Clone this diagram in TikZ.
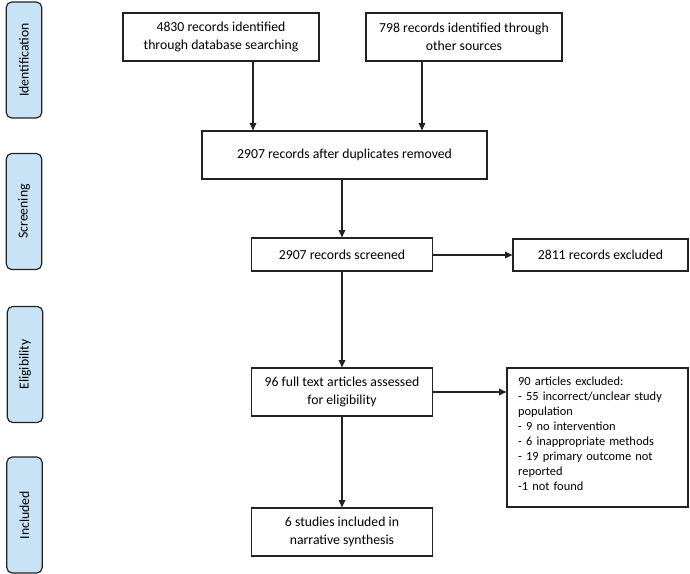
\documentclass[tikz,border=0pt]{standalone}
\usepackage{fontspec}
\setmainfont{Carlito}
\usepackage{xcolor}
\usepackage{tikz}
\usetikzlibrary{positioning}
\usetikzlibrary{arrows.meta}
\definecolor{phasefill}{HTML}{C8E3F6}
\definecolor{inkgray}{HTML}{222222}

\begin{document}
\begin{tikzpicture}
  [
    x=0.75pt, y=-0.75pt,
    box/.style={draw=inkgray, line width=0.9pt, align=center, inner sep=2pt,
      text=black, font=\fontsize{10.3}{13.5}\selectfont},
    phase/.style={draw=inkgray, line width=0.9pt, fill=phasefill,
      rounded corners=4pt, rotate=90, minimum width=87pt,
      minimum height=26.5pt, inner sep=0pt,
      text=black, font=\fontsize{10.3}{13.5}\selectfont},
    ar/.style={draw=inkgray, line width=0.9pt,
      -{Triangle[length=5.5pt,width=5pt]}}
  ]
  \useasboundingbox (0,0) rectangle (690,574);

  % phase labels
  \node  (ident) at (24,60)    [phase] {Identification};
  \node  (scrn)  at (24,211.5) [phase] {Screening};
  \node  (elig)  at (25,364.5) [phase] {Eligibility};
  \node  (inclp) at (24.5,515) [phase] {Included};

  % flow boxes
  \node (dbase)   at (221,37)    [box, minimum width=147pt, minimum height=36pt]
        {4830 records identified\\through database searching};
  \node (other)   at (464,37)    [box, minimum width=147pt, minimum height=36pt]
        {798 records identified through\\other sources};
  \node (dupl)    at (344.5,155) [box, minimum width=213.75pt, minimum height=36pt]
        {2907 records after duplicates removed};
  \node (screen)  at (342,254.5) [box, minimum width=135.75pt, minimum height=24.75pt]
        {2907 records screened};
  \node (excl)    at (600.5,255) [box, minimum width=131.25pt, minimum height=24pt]
        {2811 records excluded};
  \node (full)    at (342,392)   [box, minimum width=135.75pt, minimum height=36pt]
        {96 full text articles assessed\\for eligibility};
  \node (reasons) at (597.5,437.5) [box, minimum width=135.75pt, minimum height=104.25pt,
        text width=119pt, align=left, inner xsep=8pt,
        font=\fontsize{9.3}{11.25}\selectfont]
        {90 articles excluded:\\- 55 incorrect/unclear study\\population\\- 9 no intervention\\
         - 6 inappropriate methods\\- 19 primary outcome not\\reported\\
         -1 not found\rule[-6pt]{0pt}{6pt}};
  \node (incl)    at (342,532)   [box, minimum width=135.75pt, minimum height=36pt]
        {6 studies included in\\narrative synthesis};

  % drop points onto the merged box
  \coordinate (dbdrop) at (253,0);
  \coordinate (otdrop) at (422,0);

  \draw [ar] (dbase.south -| dbdrop) -- (dupl.north -| dbdrop);
  \draw [ar] (other.south -| otdrop) -- (dupl.north -| otdrop);
  \draw [ar] (dupl.south -| screen) -- (screen.north);
  \draw [ar] (screen.east |- excl) -- (excl.west);
  \draw [ar] (screen.south) -- (full.north);
  \draw [ar] (full.east) -- (full.east -| reasons.west);
  \draw [ar] (full.south) -- (incl.north);
\end{tikzpicture}
\end{document}
